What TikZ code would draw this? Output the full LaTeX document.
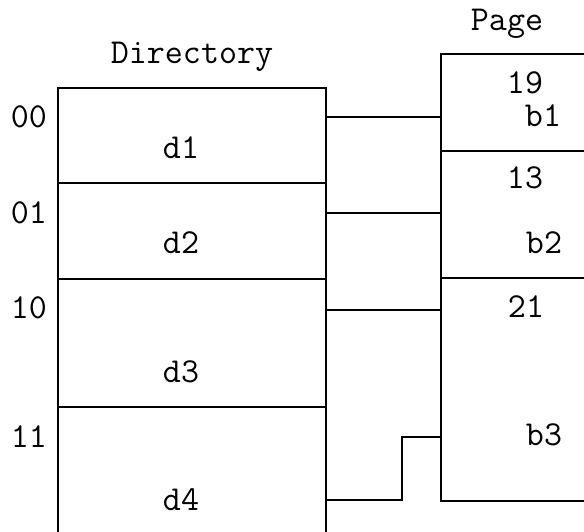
\documentclass[tikz,border=0pt]{standalone}
\usepackage{fontspec}
\usetikzlibrary{calc}
\begin{document}
\begin{tikzpicture}[x=1pt,y=-1pt,
  cell/.style={draw, line width=1.6pt, rectangle, anchor=north west, inner sep=0pt},
  wire/.style={draw, line width=1.6pt},
  lbl/.style={anchor=base, inner sep=0pt, font=\fontsize{35}{38}\selectfont\ttfamily}]
\clip (0,0) rectangle (584,531);
\fill[white] (0,0) rectangle (584,531);

% directory cells (the last one runs past the lower edge)
\node[cell, minimum width=268pt, minimum height=95pt]  (d1) at (57,87)  {};
\node[cell, minimum width=268pt, minimum height=96pt]  (d2) at (57,182) {};
\node[cell, minimum width=268pt, minimum height=128pt] (d3) at (57,278) {};
\node[cell, minimum width=268pt, minimum height=160pt] (d4) at (57,406) {};

% page cells (running past the right edge)
\node[cell, minimum width=180pt, minimum height=97pt]  (b1) at (440,53)  {};
\node[cell, minimum width=180pt, minimum height=127pt] (b2) at (440,150) {};
\node[cell, minimum width=180pt, minimum height=223pt] (b3) at (440,277) {};

% connector end points on the cell edges
\coordinate (s1) at ($(d1.north east)+(0,30)$);
\coordinate (t1) at ($(b1.north west)+(0,64)$);
\coordinate (s2) at ($(d2.north east)+(0,31)$);
\coordinate (t2) at ($(b2.north west)+(0,63)$);
\coordinate (s3) at ($(d3.north east)+(0,32)$);
\coordinate (t3) at ($(b3.north west)+(0,33)$);
\coordinate (s4) at ($(d4.north east)+(0,94)$);
\coordinate (t4) at ($(b3.north west)+(0,160)$);
\coordinate (k4) at (402,0);

\draw[wire] (s1) -- (t1);
\draw[wire] (s2) -- (t2);
\draw[wire] (s3) -- (t3);
\draw[wire] (s4) -- (s4 -| k4) -- (t4 -| k4) -- (t4);

% headings
\node[lbl] (hdir)  at (192,63) {Directory};
\node[lbl] (hpage) at (507,30) {Page};

% directory indices
\node[lbl] (i00) at (29,127) {00};
\node[lbl] (i01) at (29,223) {01};
\node[lbl] (i10) at (29,318) {10};
\node[lbl] (i11) at (29,447) {11};

% directory entries
\node[lbl] (td1) at (181,158) {d1};
\node[lbl] (td2) at (181,253) {d2};
\node[lbl] (td3) at (181,382) {d3};
\node[lbl] (td4) at (181,510) {d4};

% page contents
\node[lbl] (n19) at (525,93)  {19};
\node[lbl] (tb1) at (543,126) {b1};
\node[lbl] (n13) at (525,188) {13};
\node[lbl] (tb2) at (544,253) {b2};
\node[lbl] (n21) at (526,317) {21};
\node[lbl] (tb3) at (544,445) {b3};
\end{tikzpicture}
\end{document}
